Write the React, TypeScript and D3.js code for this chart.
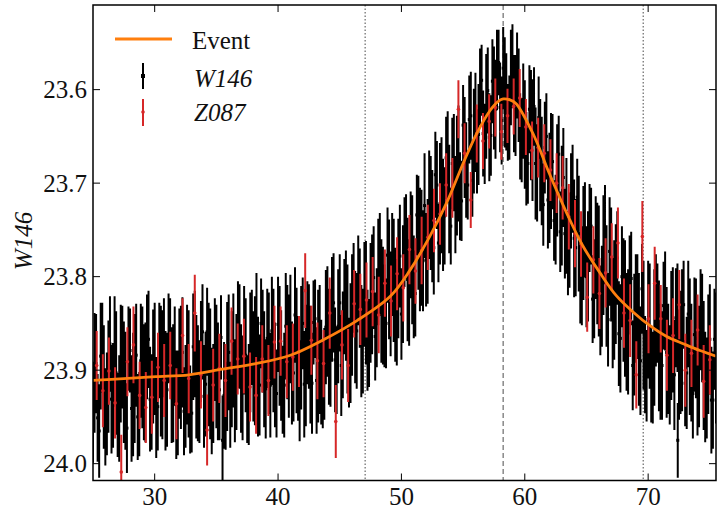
import React from 'react';
import * as d3 from 'd3';

// W146 photometry (days, magnitude, 1-sigma error)
const W146_T = [
  25.00, 25.25, 25.50, 25.75, 26.00, 26.25, 26.50, 26.75, 27.00, 27.25,
  27.50, 27.75, 28.00, 28.25, 28.50, 28.75, 29.00, 29.25, 29.50, 29.75,
  30.00, 30.25, 30.50, 30.75, 31.00, 31.25, 31.50, 31.75, 32.00, 32.25,
  32.50, 32.75, 33.00, 33.25, 33.50, 33.75, 34.00, 34.25, 34.50, 34.75,
  35.00, 35.25, 35.50, 35.75, 36.00, 36.25, 36.50, 36.75, 37.00, 37.25,
  37.50, 37.75, 38.00, 38.25, 38.50, 38.75, 39.00, 39.25, 39.50, 39.75,
  40.00, 40.25, 40.50, 40.75, 41.00, 41.25, 41.50, 41.75, 42.00, 42.25,
  42.50, 42.75, 43.00, 43.25, 43.50, 43.75, 44.00, 44.25, 44.50, 44.75,
  45.00, 45.25, 45.50, 45.75, 46.00, 46.25, 46.50, 46.75, 47.00, 47.25,
  47.50, 47.75, 48.00, 48.25, 48.50, 48.75, 49.00, 49.25, 49.50, 49.75,
  50.00, 50.25, 50.50, 50.75, 51.00, 51.25, 51.50, 51.75, 52.00, 52.25,
  52.50, 52.75, 53.00, 53.25, 53.50, 53.75, 54.00, 54.25, 54.50, 54.75,
  55.00, 55.25, 55.50, 55.75, 56.00, 56.25, 56.50, 56.75, 57.00, 57.25,
  57.50, 57.75, 58.00, 58.25, 58.50, 58.75, 59.00, 59.25, 59.50, 59.75,
  60.00, 60.25, 60.50, 60.75, 61.00, 61.25, 61.50, 61.75, 62.00, 62.25,
  62.50, 62.75, 63.00, 63.25, 63.50, 63.75, 64.00, 64.25, 64.50, 64.75,
  65.00, 65.25, 65.50, 65.75, 66.00, 66.25, 66.50, 66.75, 67.00, 67.25,
  67.50, 67.75, 68.00, 68.25, 68.50, 68.75, 69.00, 69.25, 69.50, 69.75,
  70.00, 70.25, 70.50, 70.75, 71.00, 71.25, 71.50, 71.75, 72.00, 72.25,
  72.50, 72.75, 73.00, 73.25, 73.50, 73.75, 74.00, 74.25, 74.50, 74.75,
  75.00, 75.25, 75.50, 72.40,
  25.125, 25.375, 25.625, 25.875, 26.125, 26.375, 26.625, 26.875, 27.125, 27.375,
  27.625, 27.875, 28.125, 28.375, 28.625, 28.875, 29.125, 29.375, 29.625, 29.875,
  30.125, 30.375, 30.625, 30.875, 31.125, 31.375, 31.625, 31.875, 32.125, 32.375,
  32.625, 32.875, 33.125, 33.375, 33.625, 33.875, 34.125, 34.375, 34.625, 34.875,
  35.125, 35.375, 35.625, 35.875, 36.125, 36.375, 36.625, 36.875, 37.125, 37.375,
  37.625, 37.875, 38.125, 38.375, 38.625, 38.875, 39.125, 39.375, 39.625, 39.875,
  40.125, 40.375, 40.625, 40.875, 41.125, 41.375, 41.625, 41.875, 42.125, 42.375,
  42.625, 42.875, 43.125, 43.375, 43.625, 43.875, 44.125, 44.375, 44.625, 44.875,
  45.125, 45.375, 45.625, 45.875, 46.125, 46.375, 46.625, 46.875, 47.125, 47.375,
  47.625, 47.875, 48.125, 48.375, 48.625, 48.875, 49.125, 49.375, 49.625, 49.875,
  50.125, 50.375, 50.625, 50.875, 51.125, 51.375, 51.625, 51.875, 52.125, 52.375,
  52.625, 52.875, 53.125, 53.375, 53.625, 53.875, 54.125, 54.375, 54.625, 54.875,
  55.125, 55.375, 55.625, 55.875, 56.125, 56.375, 56.625, 56.875, 57.125, 57.375,
  57.625, 57.875, 58.125, 58.375, 58.625, 58.875, 59.125, 59.375, 59.625, 59.875,
  60.125, 60.375, 60.625, 60.875, 61.125, 61.375, 61.625, 61.875, 62.125, 62.375,
  62.625, 62.875, 63.125, 63.375, 63.625, 63.875, 64.125, 64.375, 64.625, 64.875,
  65.125, 65.375, 65.625, 65.875, 66.125, 66.375, 66.625, 66.875, 67.125, 67.375,
  67.625, 67.875, 68.125, 68.375, 68.625, 68.875, 69.125, 69.375, 69.625, 69.875,
  70.125, 70.375, 70.625, 70.875, 71.125, 71.375, 71.625, 71.875, 72.125, 72.375,
  72.625, 72.875, 73.125, 73.375, 73.625, 73.875, 74.125, 74.375, 74.625, 74.875,
  75.125, 75.375,
];
const W146_MAG = [
  23.945, 23.893, 23.965, 23.876, 23.950, 23.907, 23.931, 23.880, 23.948, 23.893,
  23.913, 23.962, 23.879, 23.926, 23.884, 23.947, 23.897, 23.913, 23.867, 23.934,
  23.888, 23.939, 23.901, 23.876, 23.921, 23.868, 23.914, 23.937, 23.893, 23.881,
  23.928, 23.904, 23.946, 23.872, 23.914, 23.880, 23.928, 23.859, 23.904, 23.925,
  23.896, 23.921, 23.975, 23.938, 23.881, 23.899, 23.922, 23.862, 23.909, 23.868,
  23.931, 23.881, 23.896, 23.849, 23.916, 23.869, 23.920, 23.882, 23.858, 23.905,
  23.851, 23.895, 23.916, 23.870, 23.856, 23.903, 23.879, 23.922, 23.850, 23.895,
  23.864, 23.914, 23.845, 23.885, 23.902, 23.904, 23.848, 23.876, 23.828, 23.900,
  23.828, 23.873, 23.831, 23.892, 23.841, 23.854, 23.804, 23.869, 23.819, 23.868,
  23.828, 23.801, 23.844, 23.787, 23.831, 23.850, 23.803, 23.787, 23.830, 23.802,
  23.840, 23.763, 23.803, 23.766, 23.811, 23.734, 23.771, 23.783, 23.782, 23.723,
  23.746, 23.691, 23.764, 23.713, 23.735, 23.672, 23.746, 23.678, 23.692, 23.714,
  23.638, 23.686, 23.632, 23.697, 23.635, 23.648, 23.590, 23.658, 23.601, 23.649,
  23.609, 23.579, 23.619, 23.577, 23.613, 23.630, 23.575, 23.617, 23.606, 23.654,
  23.648, 23.679, 23.638, 23.618, 23.689, 23.670, 23.723, 23.650, 23.705, 23.677,
  23.739, 23.669, 23.724, 23.754, 23.775, 23.719, 23.759, 23.715, 23.804, 23.764,
  23.800, 23.748, 23.824, 23.769, 23.794, 23.821, 23.755, 23.846, 23.787, 23.825,
  23.780, 23.866, 23.825, 23.859, 23.809, 23.895, 23.834, 23.867, 23.813, 23.894,
  23.846, 23.904, 23.865, 23.839, 23.891, 23.831, 23.881, 23.905, 23.857, 23.844,
  23.894, 23.868, 23.914, 23.840, 23.892, 23.862, 23.921, 23.846, 23.895, 23.919,
  23.867, 23.932, 23.887, 23.975,
  23.903, 23.951, 23.885, 23.918, 23.936, 23.872, 23.927, 23.903, 23.941, 23.886,
  23.922, 23.877, 23.941, 23.909, 23.950, 23.890, 23.913, 23.875, 23.931, 23.896,
  23.940, 23.879, 23.905, 23.922, 23.866, 23.916, 23.885, 23.935, 23.897, 23.944,
  23.894, 23.942, 23.875, 23.907, 23.923, 23.859, 23.915, 23.894, 23.933, 23.878,
  23.912, 23.865, 23.927, 23.896, 23.937, 23.879, 23.902, 23.864, 23.919, 23.884,
  23.926, 23.865, 23.890, 23.907, 23.850, 23.899, 23.866, 23.916, 23.879, 23.925,
  23.874, 23.921, 23.853, 23.885, 23.903, 23.841, 23.898, 23.876, 23.915, 23.860,
  23.894, 23.849, 23.911, 23.878, 23.916, 23.854, 23.875, 23.835, 23.889, 23.853,
  23.895, 23.832, 23.856, 23.871, 23.812, 23.858, 23.823, 23.869, 23.828, 23.871,
  23.819, 23.864, 23.795, 23.826, 23.842, 23.777, 23.829, 23.804, 23.838, 23.778,
  23.808, 23.757, 23.817, 23.782, 23.818, 23.753, 23.769, 23.724, 23.773, 23.732,
  23.769, 23.702, 23.722, 23.734, 23.673, 23.717, 23.679, 23.723, 23.679, 23.719,
  23.662, 23.702, 23.628, 23.655, 23.666, 23.597, 23.647, 23.618, 23.651, 23.591,
  23.621, 23.571, 23.633, 23.603, 23.635, 23.587, 23.615, 23.585, 23.650, 23.623,
  23.674, 23.621, 23.654, 23.679, 23.630, 23.687, 23.662, 23.718, 23.687, 23.740,
  23.697, 23.752, 23.694, 23.735, 23.761, 23.706, 23.769, 23.754, 23.799, 23.750,
  23.789, 23.746, 23.813, 23.786, 23.836, 23.777, 23.810, 23.773, 23.839, 23.808,
  23.861, 23.800, 23.834, 23.859, 23.802, 23.862, 23.832, 23.890, 23.852, 23.906,
  23.853, 23.908, 23.836, 23.874, 23.895, 23.826, 23.888, 23.863, 23.905, 23.844,
  23.881, 23.830, 23.903, 23.875, 23.925, 23.866, 23.896, 23.855, 23.918, 23.883,
  23.932, 23.867,
];
const W146_ERR = [
  0.054, 0.053, 0.050, 0.048, 0.052, 0.060, 0.058, 0.059, 0.045, 0.063,
  0.065, 0.048, 0.045, 0.066, 0.055, 0.045, 0.065, 0.064, 0.052, 0.051,
  0.060, 0.047, 0.070, 0.053, 0.061, 0.045, 0.063, 0.058, 0.059, 0.059,
  0.055, 0.068, 0.042, 0.057, 0.062, 0.054, 0.055, 0.047, 0.070, 0.053,
  0.066, 0.054, 0.048, 0.047, 0.062, 0.062, 0.055, 0.057, 0.058, 0.058,
  0.047, 0.064, 0.059, 0.053, 0.054, 0.055, 0.053, 0.065, 0.058, 0.056,
  0.051, 0.059, 0.056, 0.061, 0.058, 0.052, 0.067, 0.054, 0.049, 0.065,
  0.056, 0.054, 0.042, 0.071, 0.056, 0.049, 0.059, 0.063, 0.053, 0.047,
  0.052, 0.057, 0.059, 0.048, 0.065, 0.060, 0.048, 0.060, 0.056, 0.054,
  0.064, 0.055, 0.053, 0.055, 0.063, 0.048, 0.064, 0.055, 0.061, 0.064,
  0.049, 0.048, 0.066, 0.057, 0.055, 0.043, 0.066, 0.054, 0.050, 0.058,
  0.060, 0.046, 0.042, 0.062, 0.052, 0.049, 0.041, 0.052, 0.064, 0.047,
  0.043, 0.051, 0.047, 0.039, 0.053, 0.054, 0.038, 0.043, 0.046, 0.043,
  0.055, 0.043, 0.048, 0.044, 0.052, 0.045, 0.045, 0.054, 0.050, 0.045,
  0.058, 0.043, 0.059, 0.042, 0.052, 0.060, 0.044, 0.046, 0.059, 0.051,
  0.048, 0.041, 0.064, 0.048, 0.045, 0.051, 0.063, 0.041, 0.046, 0.061,
  0.054, 0.047, 0.047, 0.055, 0.070, 0.054, 0.053, 0.050, 0.061, 0.064,
  0.050, 0.058, 0.066, 0.063, 0.053, 0.048, 0.058, 0.071, 0.048, 0.052,
  0.063, 0.052, 0.073, 0.053, 0.062, 0.047, 0.070, 0.053, 0.067, 0.053,
  0.059, 0.076, 0.046, 0.057, 0.063, 0.061, 0.049, 0.054, 0.069, 0.054,
  0.059, 0.052, 0.070, 0.040,
  0.064, 0.047, 0.057, 0.066, 0.055, 0.051, 0.056, 0.066, 0.057, 0.055,
  0.063, 0.045, 0.057, 0.069, 0.046, 0.061, 0.062, 0.056, 0.056, 0.061,
  0.054, 0.051, 0.069, 0.064, 0.048, 0.062, 0.053, 0.056, 0.066, 0.047,
  0.064, 0.047, 0.057, 0.066, 0.055, 0.051, 0.056, 0.066, 0.057, 0.055,
  0.063, 0.045, 0.057, 0.069, 0.046, 0.061, 0.062, 0.056, 0.056, 0.061,
  0.054, 0.051, 0.069, 0.064, 0.048, 0.062, 0.053, 0.056, 0.066, 0.047,
  0.064, 0.047, 0.057, 0.066, 0.055, 0.051, 0.056, 0.066, 0.057, 0.055,
  0.063, 0.045, 0.057, 0.069, 0.046, 0.061, 0.062, 0.056, 0.056, 0.061,
  0.054, 0.051, 0.069, 0.064, 0.048, 0.062, 0.053, 0.056, 0.066, 0.047,
  0.064, 0.047, 0.057, 0.066, 0.055, 0.051, 0.056, 0.066, 0.057, 0.055,
  0.063, 0.045, 0.057, 0.069, 0.046, 0.061, 0.062, 0.056, 0.056, 0.061,
  0.050, 0.047, 0.065, 0.060, 0.044, 0.058, 0.049, 0.052, 0.062, 0.043,
  0.054, 0.037, 0.047, 0.056, 0.045, 0.041, 0.046, 0.056, 0.047, 0.045,
  0.053, 0.035, 0.047, 0.059, 0.041, 0.051, 0.052, 0.046, 0.046, 0.051,
  0.050, 0.047, 0.065, 0.060, 0.044, 0.058, 0.049, 0.052, 0.062, 0.043,
  0.060, 0.043, 0.053, 0.062, 0.051, 0.047, 0.052, 0.062, 0.053, 0.051,
  0.059, 0.041, 0.053, 0.065, 0.048, 0.064, 0.065, 0.058, 0.059, 0.064,
  0.056, 0.054, 0.073, 0.067, 0.050, 0.065, 0.056, 0.058, 0.069, 0.049,
  0.067, 0.049, 0.060, 0.070, 0.058, 0.053, 0.059, 0.069, 0.059, 0.058,
  0.066, 0.047, 0.060, 0.073, 0.048, 0.064, 0.065, 0.058, 0.059, 0.064,
  0.057, 0.054,
];

// Z087 photometry
const Z087_T = [
  25.30, 25.80, 26.29, 26.79, 27.29, 27.79, 28.28, 28.78, 29.28, 29.77,
  30.27, 30.77, 31.26, 31.76, 32.26, 32.76, 33.25, 33.75, 34.25, 34.74,
  35.24, 35.74, 36.23, 36.73, 37.23, 37.73, 38.22, 38.72, 39.22, 39.71,
  40.21, 40.71, 41.20, 41.70, 42.20, 42.70, 43.19, 43.69, 44.19, 44.68,
  45.18, 45.68, 46.17, 46.67, 47.17, 47.67, 48.16, 48.66, 49.16, 49.65,
  50.15, 50.65, 51.14, 51.64, 52.14, 52.64, 53.13, 53.63, 54.13, 54.62,
  55.12, 55.62, 56.11, 56.61, 57.11, 57.61, 58.10, 58.60, 59.10, 59.59,
  60.09, 60.59, 61.08, 61.58, 62.08, 62.58, 63.07, 63.57, 64.07, 64.56,
  65.06, 65.56, 66.05, 66.55, 67.05, 67.55, 68.04, 68.54, 69.04, 69.53,
  70.03, 70.53, 71.02, 71.52, 72.02, 72.52, 73.01, 73.51, 74.01, 74.50,
  75.00,
];
const Z087_MAG = [
  23.895, 23.922, 23.901, 23.935, 24.009, 23.891, 23.873, 23.927, 23.940, 23.929,
  23.897, 23.911, 23.895, 23.936, 23.863, 23.909, 23.839, 23.905, 23.964, 23.916,
  23.898, 23.911, 23.869, 23.888, 23.885, 23.918, 23.927, 23.888, 23.911, 23.870,
  23.869, 23.891, 23.886, 23.880, 23.815, 23.868, 23.890, 23.893, 23.839, 23.955,
  23.873, 23.895, 23.829, 23.835, 23.825, 23.816, 23.841, 23.807, 23.826, 23.797,
  23.812, 23.771, 23.794, 23.772, 23.758, 23.740, 23.733, 23.702, 23.705, 23.621,
  23.668, 23.718, 23.647, 23.655, 23.634, 23.619, 23.645, 23.628, 23.618, 23.609,
  23.640, 23.665, 23.662, 23.668, 23.686, 23.700, 23.705, 23.736, 23.754, 23.765,
  23.822, 23.782, 23.818, 23.796, 23.779, 23.764, 23.839, 23.847, 23.905, 23.757,
  23.845, 23.807, 23.845, 23.884, 23.863, 23.830, 23.900, 23.882, 23.857, 23.912,
  23.889,
];
const Z087_ERR = [
  0.037, 0.039, 0.036, 0.038, 0.040, 0.037, 0.041, 0.036, 0.038, 0.039,
  0.037, 0.039, 0.036, 0.038, 0.040, 0.037, 0.041, 0.036, 0.038, 0.039,
  0.037, 0.039, 0.036, 0.038, 0.040, 0.037, 0.041, 0.036, 0.038, 0.039,
  0.037, 0.039, 0.036, 0.038, 0.040, 0.037, 0.041, 0.036, 0.038, 0.039,
  0.037, 0.039, 0.036, 0.038, 0.040, 0.037, 0.041, 0.036, 0.038, 0.039,
  0.036, 0.037, 0.035, 0.036, 0.035, 0.034, 0.033, 0.034, 0.032, 0.031,
  0.032, 0.030, 0.031, 0.030, 0.029, 0.031, 0.030, 0.029, 0.030, 0.031,
  0.030, 0.031, 0.032, 0.031, 0.033, 0.032, 0.034, 0.035, 0.036, 0.035,
  0.037, 0.036, 0.038, 0.037, 0.036, 0.038, 0.037, 0.039, 0.036, 0.038,
  0.037, 0.039, 0.036, 0.038, 0.040, 0.037, 0.039, 0.036, 0.038, 0.039,
  0.037,
];

// Event model curve
const EVENT_T = [
  25.0, 27.5, 30.1, 32.8, 35.5, 38.2, 41.0, 43.6, 46.4, 49.1, 50.7, 52.3,
  53.7, 55.0, 56.1, 57.2, 57.8, 58.25, 58.8, 59.3, 60.7, 62.0, 63.4, 64.7,
  66.1, 67.4, 68.8, 70.2, 71.5, 72.9, 74.2, 75.5,
];
const EVENT_MAG = [
  23.911, 23.909, 23.907, 23.905, 23.899, 23.893, 23.884, 23.868, 23.847, 23.821, 23.793, 23.757,
  23.720, 23.679, 23.647, 23.622, 23.613, 23.610, 23.611, 23.615, 23.648, 23.690, 23.732, 23.767,
  23.796, 23.820, 23.838, 23.853, 23.864, 23.872, 23.879, 23.885,
];

const VLINES_DOTTED = [47.06, 69.6];
const VLINE_DASHED = 58.25;

const X_TICKS = [30, 40, 50, 60, 70];
const Y_TICKS = [23.6, 23.7, 23.8, 23.9, 24.0];

const FONT = '"Liberation Serif", "DejaVu Serif", serif';
const ORANGE = '#ff7f0e';
const RED = '#d62728';

const App = () => {
  const left = 93, right = 716, top = 5, bottom = 480.5;
  const x = d3.scaleLinear().domain([25, 75.5]).range([left, right]);
  const y = d3.scaleLinear().domain([23.5095, 24.018]).range([top, bottom]);

  // error bar paths
  const barPath = (ts, ms, es) =>
    ts.map((t, i) => `M${x(t)},${y(ms[i] - es[i])}V${y(ms[i] + es[i])}`).join('');

  const eventLine = d3
    .line<number>()
    .x((d, i) => x(EVENT_T[i]))
    .y((d) => y(d))
    .curve(d3.curveCatmullRom.alpha(0.5));

  const fmtY = d3.format('.1f');
  const tickLen = 7;

  return (
    <svg
      width={718}
      height={511}
      style={{ position: 'absolute', left: 0, top: 0, background: '#fff' }}
      fontFamily={FONT}
    >
      <defs>
        <clipPath id="plot">
          <rect x={left} y={top} width={right - left} height={bottom - top} />
        </clipPath>
      </defs>

      <g clipPath="url(#plot)">
        {/* marker lines */}
        {VLINES_DOTTED.map((t) => (
          <line key={t} x1={x(t)} x2={x(t)} y1={top} y2={bottom} stroke="#666" strokeWidth={1.2} strokeDasharray="1.5,2" />
        ))}
        <line x1={x(VLINE_DASHED)} x2={x(VLINE_DASHED)} y1={top} y2={bottom} stroke="#888" strokeWidth={1.5} strokeDasharray="5,3" />

        {/* W146 */}
        <path d={barPath(W146_T, W146_MAG, W146_ERR)} stroke="#000" strokeWidth={2} fill="none" />
        {W146_T.map((t, i) => (
          <rect key={i} x={x(t) - 1.5} y={y(W146_MAG[i]) - 1.5} width={3} height={3} fill="#000" />
        ))}

        {/* Z087 */}
        <path d={barPath(Z087_T, Z087_MAG, Z087_ERR)} stroke={RED} strokeWidth={2} fill="none" />
        {Z087_T.map((t, i) => (
          <circle key={i} cx={x(t)} cy={y(Z087_MAG[i])} r={1.8} fill={RED} />
        ))}

        {/* Event */}
        <path d={eventLine(EVENT_MAG) || ''} stroke={ORANGE} strokeWidth={2.8} fill="none" />
      </g>

      {/* frame */}
      <rect x={left} y={top} width={right - left} height={bottom - top} fill="none" stroke="#000" strokeWidth={1.5} />

      {/* x ticks */}
      {X_TICKS.map((t) => (
        <g key={t}>
          <line x1={x(t)} x2={x(t)} y1={bottom} y2={bottom - tickLen} stroke="#000" strokeWidth={1} />
          <line x1={x(t)} x2={x(t)} y1={top} y2={top + tickLen} stroke="#000" strokeWidth={1} />
          <text x={x(t)} y={505} textAnchor="middle" fontSize={25} fill="#111">
            {t}
          </text>
        </g>
      ))}

      {/* y ticks */}
      {Y_TICKS.map((m) => (
        <g key={m}>
          <line x1={left} x2={left + tickLen} y1={y(m)} y2={y(m)} stroke="#000" strokeWidth={1} />
          <line x1={right} x2={right - tickLen} y1={y(m)} y2={y(m)} stroke="#000" strokeWidth={1} />
          <text x={87} y={y(m)} textAnchor="end" dominantBaseline="central" fontSize={25} fill="#111">
            {fmtY(m)}
          </text>
        </g>
      ))}

      {/* y label */}
      <text
        transform="translate(23,241) rotate(-90)"
        textAnchor="middle"
        dominantBaseline="central"
        fontSize={25}
        fontStyle="italic"
        fill="#111"
      >
        W146
      </text>

      {/* legend */}
      <g>
        <line x1={115} x2={172} y1={39} y2={39} stroke={ORANGE} strokeWidth={2.8} />
        <text x={192} y={49} fontSize={25} fill="#111">Event</text>

        <line x1={143} x2={143} y1={63} y2={89} stroke="#000" strokeWidth={2} />
        <rect x={141} y={74} width={4} height={4} fill="#000" />
        <text x={194} y={87} fontSize={25} fontStyle="italic" fill="#111">W146</text>

        <line x1={143} x2={143} y1={99} y2={126} stroke={RED} strokeWidth={2} />
        <circle cx={143} cy={112} r={1.8} fill={RED} />
        <text x={194} y={121} fontSize={25} fontStyle="italic" fill="#111">Z087</text>
      </g>
    </svg>
  );
};

export default App;
